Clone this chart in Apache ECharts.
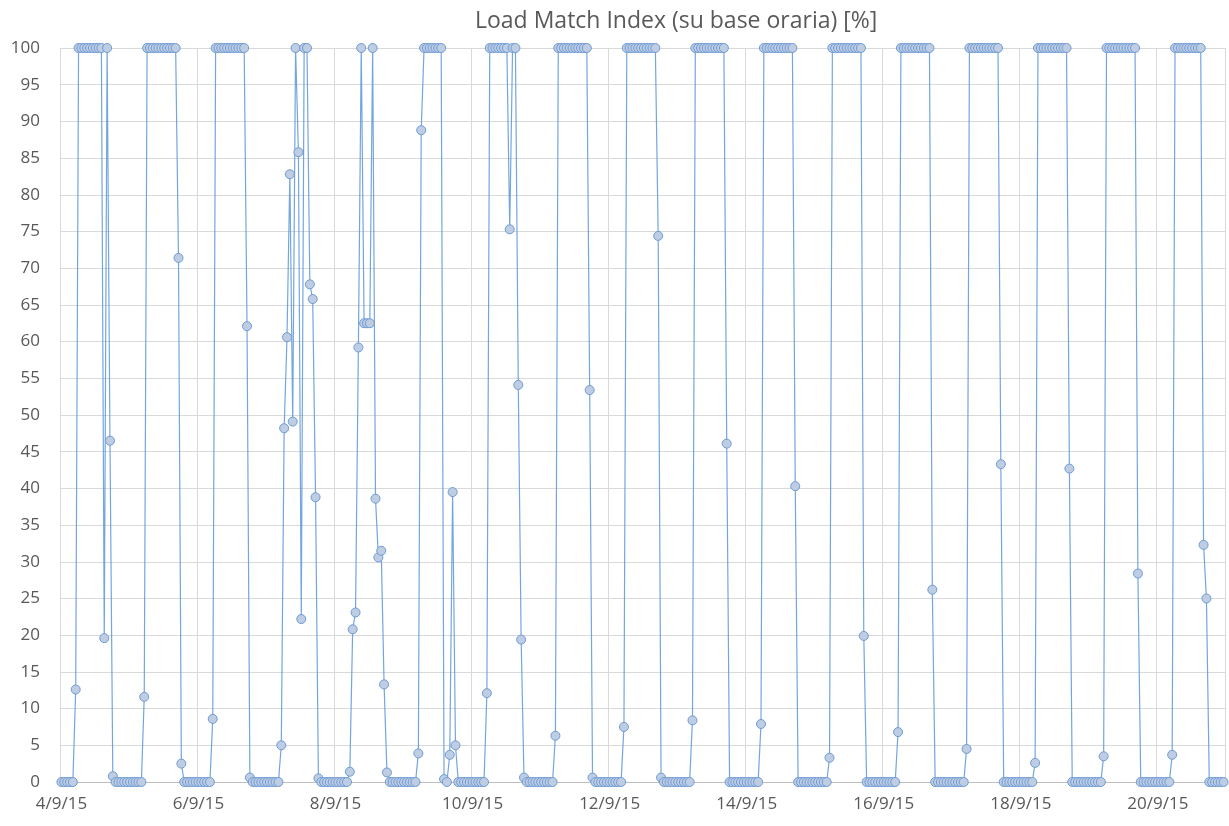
<!DOCTYPE html>
<html>
<head>
<meta charset="utf-8">
<script src="https://cdn.jsdelivr.net/npm/echarts@6/dist/echarts.min.js"></script>
<style>
html,body{margin:0;padding:0;background:#fff;}
#chart{width:1229px;height:826px;}
</style>
</head>
<body>
<div id="chart"></div>
<script>
// Day labels (one per day, hourly data: 24 points per day)
const days = ['4/9/15','5/9/15','6/9/15','7/9/15','8/9/15','9/9/15','10/9/15','11/9/15','12/9/15','13/9/15','14/9/15','15/9/15','16/9/15','17/9/15','18/9/15','19/9/15','20/9/15'];

// Hourly Load Match Index values [%], hours 0..23 for each day
const d04 = [0,0,0,0,0,12.6,100,100,100,100,100,100,100,100,100,19.6,100,46.5,0.8,0,0,0,0,0];
const d05 = [0,0,0,0,0,11.6,100,100,100,100,100,100,100,100,100,100,100,71.4,2.5,0,0,0,0,0];
const d06 = [0,0,0,0,0,8.6,100,100,100,100,100,100,100,100,100,100,100,62.1,0.6,0,0,0,0,0];
const d07 = [0,0,0,0,0,5.0,48.2,60.6,82.8,49.1,100,85.8,22.2,100,100,67.8,65.8,38.8,0.5,0,0,0,0,0];
const d08 = [0,0,0,0,0,1.4,20.8,23.1,59.2,100,62.5,62.5,62.5,100,38.6,30.6,31.5,13.3,1.3,0,0,0,0,0];
const d09 = [0,0,0,0,0,3.9,88.8,100,100,100,100,100,100,100,0.4,0,3.7,39.5,5.0,0,0,0,0,0];
const d10 = [0,0,0,0,0,12.1,100,100,100,100,100,100,100,75.3,100,100,54.1,19.4,0.6,0,0,0,0,0];
const d11 = [0,0,0,0,0,6.3,100,100,100,100,100,100,100,100,100,100,100,53.4,0.6,0,0,0,0,0];
const d12 = [0,0,0,0,0,7.5,100,100,100,100,100,100,100,100,100,100,100,74.4,0.6,0,0,0,0,0];
const d13 = [0,0,0,0,0,8.4,100,100,100,100,100,100,100,100,100,100,100,46.1,0,0,0,0,0,0];
const d14 = [0,0,0,0,0,7.9,100,100,100,100,100,100,100,100,100,100,100,40.3,0,0,0,0,0,0];
const d15 = [0,0,0,0,0,3.3,100,100,100,100,100,100,100,100,100,100,100,19.9,0,0,0,0,0,0];
const d16 = [0,0,0,0,0,6.8,100,100,100,100,100,100,100,100,100,100,100,26.2,0,0,0,0,0,0];
const d17 = [0,0,0,0,0,4.5,100,100,100,100,100,100,100,100,100,100,100,43.3,0,0,0,0,0,0];
const d18 = [0,0,0,0,0,2.6,100,100,100,100,100,100,100,100,100,100,100,42.7,0,0,0,0,0,0];
const d19 = [0,0,0,0,0,3.5,100,100,100,100,100,100,100,100,100,100,100,28.4,0,0,0,0,0,0];
const d20 = [0,0,0,0,0,3.7,100,100,100,100,100,100,100,100,100,100,32.3,25.0,0,0,0,0,0,0];

const dayValues = [d04,d05,d06,d07,d08,d09,d10,d11,d12,d13,d14,d15,d16,d17,d18,d19,d20];

// Build category axis (one category per hour) and the series data
const categories = [];
const values = [];
days.forEach((d, di) => {
  dayValues[di].forEach((v, h) => {
    categories.push(d + ' ' + h + ':00');
    values.push(v);
  });
});

const textColor = '#595959';
const fontFam = '"Open Sans", "Noto Sans", sans-serif';

const chart = echarts.init(document.getElementById('chart'), null, {renderer: 'canvas'});
chart.setOption({
  animation: false,
  backgroundColor: '#ffffff',
  title: {
    text: 'Load Match Index (su base oraria) [%]',
    left: 470,
    top: 5,
    textStyle: {color: textColor, fontSize: 23, fontWeight: 'normal', fontFamily: fontFam}
  },
  grid: {left: 60, right: 4, top: 48, bottom: 44, containLabel: false},
  xAxis: {
    type: 'category',
    data: categories,
    boundaryGap: true,
    axisLine: {show: true, lineStyle: {color: '#bfbfbf', width: 1}},
    axisTick: {show: false, interval: 47},
    axisLabel: {
      interval: 47,
      color: textColor,
      fontSize: 17,
      fontFamily: fontFam,
      margin: 14,
      formatter: v => v.split(' ')[0]
    },
    splitLine: {show: true, interval: 47, lineStyle: {color: '#d9d9d9', width: 1}}
  },
  yAxis: {
    type: 'value',
    min: 0,
    max: 100,
    interval: 5,
    axisLine: {show: false},
    axisTick: {show: false},
    axisLabel: {color: textColor, fontSize: 17, fontFamily: fontFam, margin: 20},
    splitLine: {show: true, lineStyle: {color: '#d9d9d9', width: 1}}
  },
  series: [{
    type: 'line',
    data: values,
    showAllSymbol: true,
    symbol: 'circle',
    symbolSize: 9,
    sampling: null,
    lineStyle: {color: 'rgba(91,149,217,0.85)', width: 1.2},
    itemStyle: {color: '#bfcde3', borderColor: '#6e9bd6', borderWidth: 1},
    emphasis: {disabled: true}
  }]
});
</script>
</body>
</html>
